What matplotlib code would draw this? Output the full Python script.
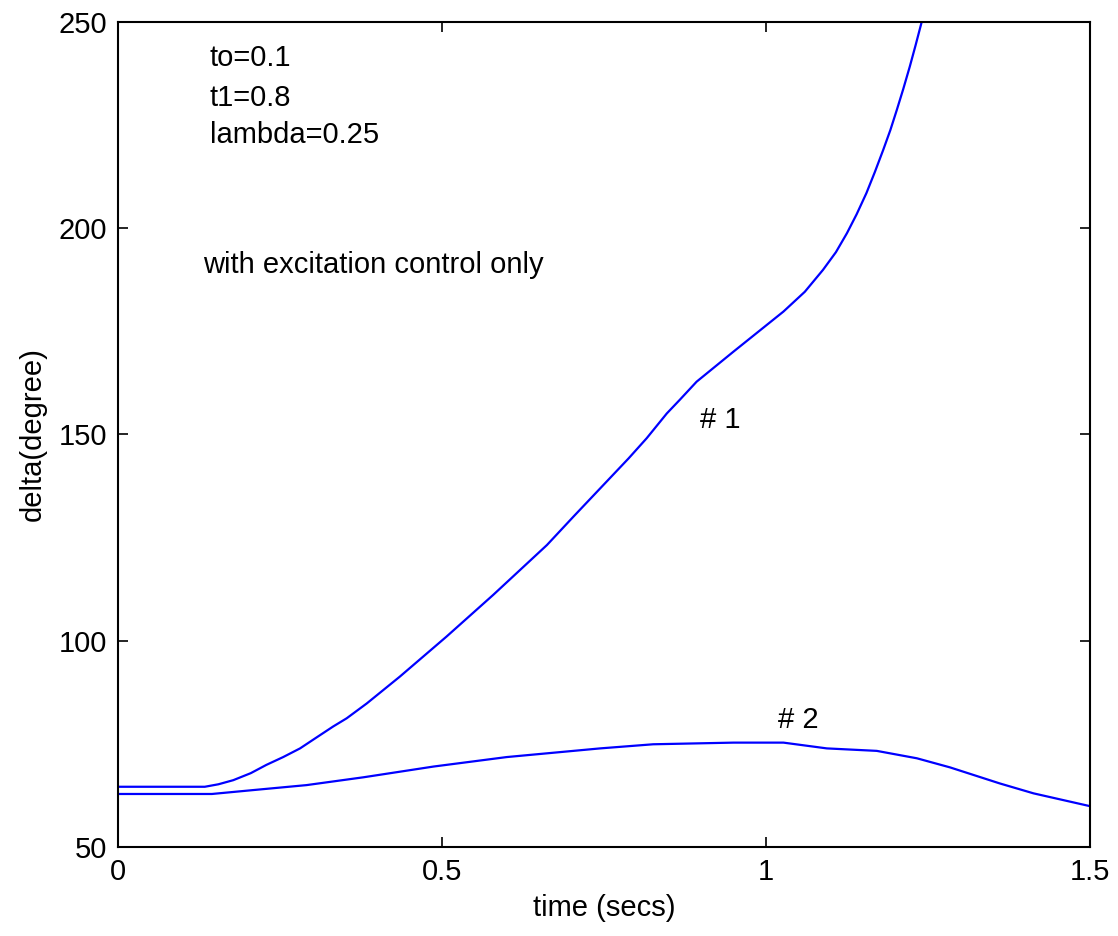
import numpy as np
import matplotlib.pyplot as plt

plt.rcParams['font.family'] = ['Liberation Sans', 'DejaVu Sans']

# curve #1
t1 = [0.0, 0.134, 0.155, 0.178, 0.205, 0.229, 0.255, 0.281, 0.305, 0.332,
      0.353, 0.384, 0.435, 0.507, 0.579, 0.662, 0.703, 0.788, 0.816, 0.847,
      0.867, 0.893, 0.950, 1.027, 1.060, 1.088, 1.108, 1.125, 1.140, 1.155,
      1.168, 1.181, 1.192, 1.202, 1.212, 1.222, 1.231, 1.240]
d1 = [64.6, 64.6, 65.2, 66.2, 67.9, 69.9, 71.8, 73.9, 76.4, 79.2,
      81.2, 84.8, 91.3, 101.0, 111.1, 123.2, 130.1, 144.2, 149.1, 155.1,
      158.4, 162.8, 170.1, 179.8, 184.6, 189.9, 194.2, 198.8, 203.4, 208.5,
      213.6, 219.0, 223.8, 228.7, 233.8, 239.2, 244.4, 249.8]

# curve #2
t2 = [0.0, 0.145, 0.209, 0.291, 0.379, 0.487, 0.60, 0.744, 0.826, 0.95,
      1.027, 1.094, 1.171, 1.233, 1.284, 1.361, 1.413, 1.5]
d2 = [62.85, 62.85, 63.8, 65.0, 66.9, 69.5, 71.8, 73.9, 74.9, 75.3,
      75.3, 73.9, 73.3, 71.5, 69.3, 65.4, 63.0, 59.9]

fig = plt.figure(figsize=(11.18, 9.36), dpi=100)
ax = fig.add_axes([0.1055, 0.0951, 0.8694, 0.8814])

ax.plot(t1, d1, color='#0000ff', lw=1.6)
ax.plot(t2, d2, color='#0000ff', lw=1.6)

ax.set_xlim(0, 1.5)
ax.set_ylim(50, 250)
ax.set_xticks([0, 0.5, 1, 1.5])
ax.set_xticklabels(['0', '0.5', '1', '1.5'])
ax.set_yticks([50, 100, 150, 200, 250])
fs = 21
ax.tick_params(direction='in', top=True, right=True, length=7, width=1.2,
               labelsize=fs, pad=8)
for s in ax.spines.values():
    s.set_linewidth(1.5)

ax.set_xlabel('time (secs)', fontsize=fs, labelpad=6)
ax.set_ylabel('delta(degree)', fontsize=fs, labelpad=8)

ax.text(0.142, 241.3, 'to=0.1', fontsize=fs, va='center')
ax.text(0.142, 231.6, 't1=0.8', fontsize=fs, va='center')
ax.text(0.142, 222.6, 'lambda=0.25', fontsize=fs, va='center')
ax.text(0.131, 191.1, 'with excitation control only', fontsize=fs, va='center')
ax.text(0.898, 153.5, '# 1', fontsize=fs, va='center')
ax.text(1.019, 80.8, '# 2', fontsize=fs, va='center')

fig.savefig('out.png', dpi=100)
